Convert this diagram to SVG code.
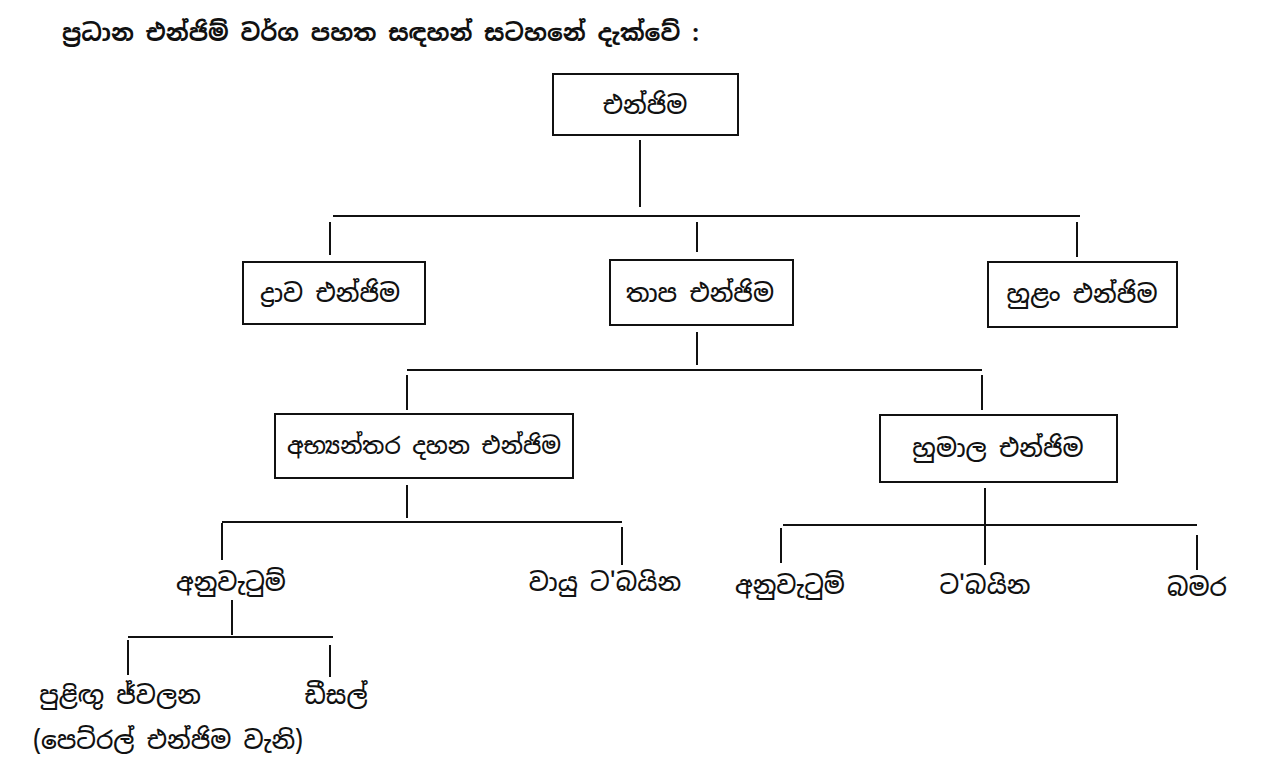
<svg xmlns="http://www.w3.org/2000/svg" width="1280" height="772" viewBox="0 0 1280 772">
<style>
text{font-family:"Noto Sans Sinhala","Noto Serif Sinhala","Iskoola Pota","Noto Sans","DejaVu Sans",sans-serif;fill:#111;text-anchor:middle;dominant-baseline:central}
.t{font-size:23.5px;font-weight:bold;text-anchor:start}
.l{font-size:24.5px;font-weight:500}
.b{fill:none;stroke:#111;stroke-width:2}
.c line{stroke:#111;stroke-width:2}
</style>
<rect width="1280" height="772" fill="#fff"/>
<text class="t" x="62" y="32">ප්‍රධාන එන්ජිම් වර්ග පහත සඳහන් සටහනේ දැක්වේ :</text>
<g id="n-engine"><rect class="b" x="553" y="74" width="185" height="61"/><text class="l" x="645" y="105">එන්ජිම</text></g>
<g id="n-hydraulic"><rect class="b" x="243" y="262" width="182" height="62"/><text class="l" x="330" y="293">ද්‍රාව එන්ජිම</text></g>
<g id="n-heat"><rect class="b" x="610" y="260" width="183" height="65"/><text class="l" x="700" y="293">තාප එන්ජිම</text></g>
<g id="n-wind"><rect class="b" x="988" y="262" width="189" height="65"/><text class="l" x="1082" y="294">හුළං එන්ජිම</text></g>
<g id="n-ic"><rect class="b" x="275" y="414" width="298" height="64"/><text class="l" x="424" y="446" style="font-size:23px">අභ්‍යන්තර දහන එන්ජිම</text></g>
<g id="n-steam"><rect class="b" x="880" y="415" width="237" height="67"/><text class="l" x="998" y="448">හුමාල එන්ජිම</text></g>
<g id="n-recip1"><text class="l" x="231" y="582">අනුවැටුම්</text></g>
<g id="n-gasturbine"><text class="l" x="605" y="582">වායු ට'බයින</text></g>
<g id="n-recip2"><text class="l" x="790" y="585">අනුවැටුම්</text></g>
<g id="n-turbine"><text class="l" x="985" y="585">ට'බයින</text></g>
<g id="n-rotary"><text class="l" x="1197" y="587">බමර</text></g>
<g id="n-spark"><text class="l" x="120" y="695">පුළිඟු ජ්වලන</text><text class="l" x="168" y="740">(පෙට්රල් එන්ජිම වැනි)</text></g>
<g id="n-diesel"><text class="l" x="336" y="695">ඩීසල්</text></g>
<g id="connectors" class="c">
<line x1="640" y1="140" x2="640" y2="207"/>
<line x1="333" y1="216" x2="1080" y2="216"/>
<line x1="330" y1="222" x2="330" y2="255"/>
<line x1="697" y1="222" x2="697" y2="252"/>
<line x1="1077" y1="222" x2="1077" y2="257"/>
<line x1="697" y1="332" x2="697" y2="365"/>
<line x1="407" y1="370" x2="982" y2="370"/>
<line x1="407" y1="375" x2="407" y2="410"/>
<line x1="982" y1="375" x2="982" y2="410"/>
<line x1="407" y1="485" x2="407" y2="518"/>
<line x1="222" y1="522" x2="622" y2="522"/>
<line x1="222" y1="523" x2="222" y2="560"/>
<line x1="622" y1="527" x2="622" y2="565"/>
<line x1="985" y1="488" x2="985" y2="565"/>
<line x1="783" y1="525" x2="1197" y2="525"/>
<line x1="781" y1="528" x2="781" y2="563"/>
<line x1="1197" y1="535" x2="1197" y2="570"/>
<line x1="232" y1="600" x2="232" y2="635"/>
<line x1="128" y1="637" x2="333" y2="637"/>
<line x1="128" y1="640" x2="128" y2="675"/>
<line x1="330" y1="645" x2="330" y2="677"/>
</g>
</svg>
